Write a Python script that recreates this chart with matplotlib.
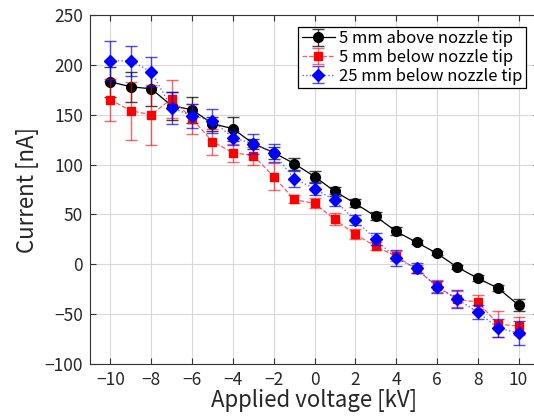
""" Current vs applied voltage at three probe positions"""

import numpy as np
from matplotlib import pyplot as plt

plt.rcParams['font.family'] = ['Noto Sans CJK JP', 'DejaVu Sans']

# Data
voltage = np.arange(-10, 11)

above5 = [183, 178, 176, 159, 155, 141, 136, 121, 112, 101, 88, 73, 61, 48,
          33, 22, 11, -3, -14, -24, -41]
above5_err = [15, 15, 17, 14, 13, 7, 12, 5, 6, 6, 6, 5, 4, 4, 4, 2, 2, 2, 3, 3, 6]

below5 = [165, 154, 150, 166, 146, 123, 112, 109, 88, 65, 61, 45, 30, 18,
          8, -5, -22, -35, -38, -60, -62]
below5_err = [21, 29, 30, 19, 15, 13, 9, 9, 14, 4, 5, 6, 5, 4, 5, 4, 6, 8, 7, 13, 9]

below25 = [204, 204, 193, 157, 149, 144, 127, 121, 112, 86, 76, 64, 44, 25,
           6, -4, -23, -35, -48, -64, -69]
below25_err = [20, 15, 15, 16, 12, 12, 7, 10, 9, 8, 7, 6, 5, 6, 8, 5, 6, 9, 7, 9, 12]

labels = ['5 mm above nozzle tip', '5 mm below nozzle tip', '25 mm below nozzle tip']

fig = plt.figure(figsize=(5.34, 4.19), dpi=100)
ax = fig.add_axes([90 / 534, 55 / 419, 449 / 534, 349 / 419])

# Series
ax.errorbar(voltage, above5, yerr=above5_err, color='black', ls='-', lw=0.9,
            marker='o', ms=7, capsize=4, elinewidth=1.0, ecolor=(0, 0, 0, 0.75),
            label=labels[0], zorder=3)
ax.errorbar(voltage, below5, yerr=below5_err, color=(1, 0.2, 0.2, 0.8), ls='--', lw=0.9,
            marker='s', ms=6, mfc='red', mec='red', capsize=4, elinewidth=1.0,
            ecolor=(1, 0, 0, 0.6), label=labels[1], zorder=4)
ax.errorbar(voltage, below25, yerr=below25_err, color=(0.3, 0.3, 1, 0.85), ls=':', lw=1.0,
            marker='D', ms=6, mfc='blue', mec='blue', capsize=4, elinewidth=1.0,
            ecolor=(0, 0, 1, 0.7), label=labels[2], zorder=5)

# Axes
ax.set_xlim(-11, 11)
ax.set_ylim(-100, 250)
ax.set_xticks(np.arange(-10, 11, 2))
ax.set_yticks(np.arange(-100, 251, 50))
ax.grid(True, color='#d9d9d9', lw=0.8)
ax.set_axisbelow(True)
ax.tick_params(direction='in', top=True, right=True, labelsize=12.5, length=4,
               pad=5, color='#333333', labelcolor='#262626')
for sp in ax.spines.values():
    sp.set_color('#333333')
    sp.set_linewidth(0.8)

ax.set_xlabel('Applied voltage [kV]', fontsize=16, color='#262626', labelpad=0)
ax.set_ylabel('Current [nA]', fontsize=16, color='#262626', labelpad=4)

# Legend
leg = ax.legend(loc='upper right', bbox_to_anchor=(436 / 449, 337 / 349), fontsize=12,
                frameon=True, fancybox=False, edgecolor='black', framealpha=1,
                borderpad=0.2, labelspacing=0.1, handlelength=2.0, handletextpad=0.25,
                borderaxespad=0)
leg.get_frame().set_linewidth(0.9)

fig.savefig('out.png', dpi=100)
